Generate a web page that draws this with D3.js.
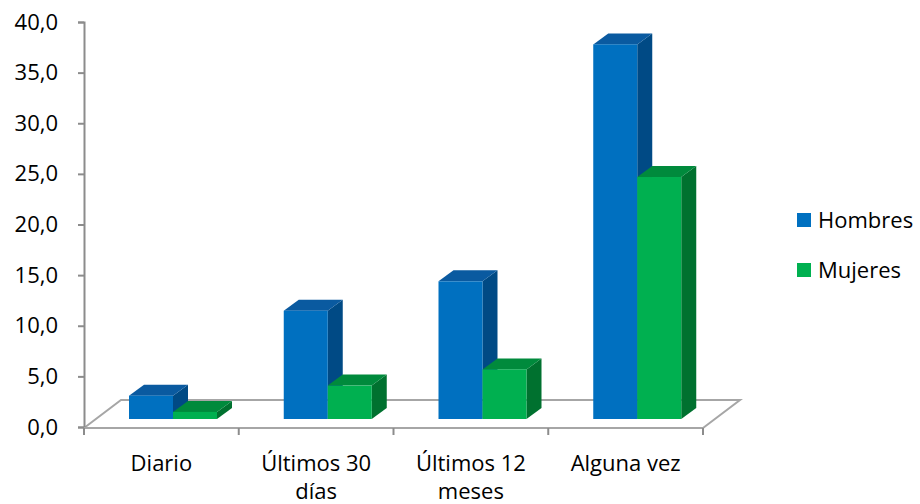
<!DOCTYPE html>
<html>
<head>
<meta charset="utf-8">
<script src="https://cdn.jsdelivr.net/npm/d3@7"></script>
<style>
  body { margin: 0; background: #fff; }
  svg { display: block; font-family: "Open Sans", "DejaVu Sans", sans-serif; }
</style>
</head>
<body>
<svg id="chart" width="920" height="504"></svg>
<script>
var categories = [["Diario"], ["Últimos 30", "días"], ["Últimos 12", "meses"], ["Alguna vez"]];
var seriesNames = ["Hombres", "Mujeres"];
var hombres = [2.3, 10.7, 13.6, 37.0];
var mujeres = [0.7, 3.3, 4.9, 23.9];
var yTicks = [0, 5, 10, 15, 20, 25, 30, 35, 40];

var palette = {
  Hombres: { front: "#0070c0", top: "#0a5aa0", side: "#004a85" },
  Mujeres: { front: "#00b050", top: "#008a3c", side: "#00712f" }
};

var svg = d3.select("#chart");

// floor geometry (front edge / back edge of the 3d floor)
var floor = { left: 84, right: 703, front: 428, depthX: 37, depthY: -28 };
// bars sit a bit behind the front edge, and have their own depth
var barShift = { x: 10, y: -8 };
var barDepth = { x: 15, y: -11 };

var y = d3.scaleLinear().domain([0, 40]).range([427, 22]);
var x0 = d3.scaleBand()
  .domain(categories.map(function (c) { return c.join(" "); }))
  .range([floor.left, floor.right]);
var x1 = d3.scaleBand().domain(seriesNames).range([35, 123]);

// floor
var fl = floor.left, fr = floor.right, ff = floor.front;
svg.append("path")
  .attr("d", "M" + fl + "," + ff +
    " L" + (fl + floor.depthX) + "," + (ff + floor.depthY) +
    " L" + (fr + floor.depthX) + "," + (ff + floor.depthY) +
    " L" + fr + "," + ff)
  .attr("fill", "none")
  .attr("stroke", "#a6a6a6")
  .attr("stroke-width", 2);

// y axis
var yAxis = svg.append("g")
  .attr("transform", "translate(" + fl + ",0)")
  .call(d3.axisLeft(y).tickValues(yTicks).tickSize(6).tickPadding(20)
    .tickFormat(function (d) { return d.toFixed(1).replace(".", ","); }));
yAxis.select(".domain").attr("stroke", "#8c8c8c").attr("stroke-width", 2);
yAxis.selectAll(".tick line").attr("stroke", "#8c8c8c").attr("stroke-width", 2);
yAxis.selectAll("text").attr("font-size", 22).attr("fill", "#000")
  .attr("font-family", "'Open Sans', sans-serif");

// x axis
svg.append("line")
  .attr("x1", fl).attr("x2", fr).attr("y1", ff).attr("y2", ff)
  .attr("stroke", "#a6a6a6").attr("stroke-width", 2);
var xTicks = x0.domain().map(function (d) { return x0(d); }).concat([fr]);
svg.selectAll(".xtick").data(xTicks).enter().append("line")
  .attr("class", "xtick")
  .attr("x1", function (d) { return d; }).attr("x2", function (d) { return d; })
  .attr("y1", ff).attr("y2", ff + 7)
  .attr("stroke", "#8c8c8c").attr("stroke-width", 2);

var xlab = svg.selectAll(".xlab").data(categories).enter().append("text")
  .attr("class", "xlab")
  .attr("text-anchor", "middle")
  .attr("font-size", 22)
  .attr("fill", "#000");
xlab.selectAll("tspan").data(function (d) { return d; }).enter().append("tspan")
  .attr("x", function () {
    var c = d3.select(this.parentNode).datum();
    return x0(c.join(" ")) + x0.bandwidth() / 2;
  })
  .attr("y", function (d, i) { return 471 + i * 28; })
  .text(function (d) { return d; });

// bars
var rows = [];
categories.forEach(function (c, i) {
  rows.push({ cat: c.join(" "), s: "Hombres", v: hombres[i] });
  rows.push({ cat: c.join(" "), s: "Mujeres", v: mujeres[i] });
});
var base = y(0) + barShift.y;
var bars = svg.selectAll(".bar").data(rows).enter().append("g").attr("class", "bar");

bars.each(function (d) {
  var g = d3.select(this);
  var x = x0(d.cat) + x1(d.s) + barShift.x;
  var w = x1.bandwidth();
  var top = y(d.v) + barShift.y;
  var dx = barDepth.x, dy = barDepth.y;
  var col = palette[d.s];
  // side
  g.append("path")
    .attr("d", "M" + (x + w) + "," + base + " L" + (x + w) + "," + top +
      " L" + (x + w + dx) + "," + (top + dy) + " L" + (x + w + dx) + "," + (base + dy) + "Z")
    .attr("fill", col.side);
  // top
  g.append("path")
    .attr("d", "M" + x + "," + top + " L" + (x + dx) + "," + (top + dy) +
      " L" + (x + w + dx) + "," + (top + dy) + " L" + (x + w) + "," + top + "Z")
    .attr("fill", col.top);
  // front
  g.append("rect")
    .attr("x", x).attr("y", top).attr("width", w).attr("height", base - top)
    .attr("fill", col.front);
});

// legend
var legend = svg.selectAll(".legend").data(seriesNames).enter().append("g")
  .attr("class", "legend")
  .attr("transform", function (d, i) { return "translate(797," + (213 + i * 50) + ")"; });
legend.append("rect").attr("width", 14).attr("height", 14)
  .attr("fill", function (d) { return palette[d].front; });
legend.append("text").attr("x", 21).attr("y", 15)
  .attr("font-size", 22).attr("fill", "#000")
  .text(function (d) { return d; });
</script>
</body>
</html>
